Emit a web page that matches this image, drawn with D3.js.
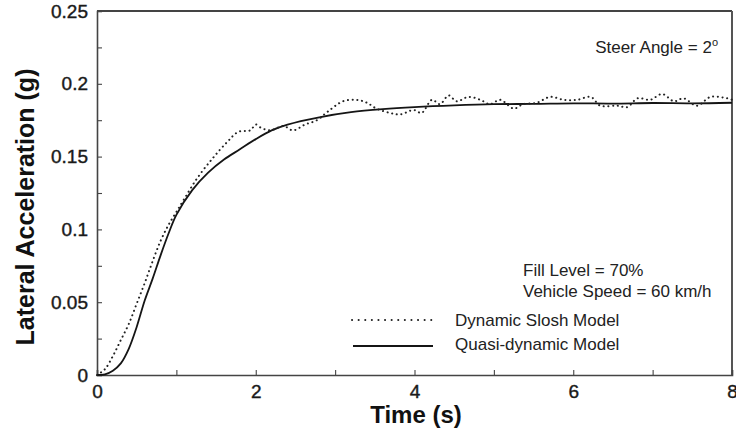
<!DOCTYPE html>
<html>
<head>
<meta charset="utf-8">
<script src="https://cdn.jsdelivr.net/npm/d3@7"></script>
<style>
  html, body { margin: 0; padding: 0; background: #fff; }
  #chart { width: 736px; height: 437px; }
  text { font-family: "Liberation Sans", Arial, Helvetica, sans-serif; }
</style>
</head>
<body>
<div id="chart"></div>
<script>
// quasi-dynamic model (solid)
const quasiTime = [0, 0.1, 0.2, 0.3, 0.4, 0.5, 0.6, 0.7, 0.8, 0.9, 1.0, 1.2, 1.4, 1.6, 1.8, 2.0, 2.2, 2.4, 2.8, 3.2, 3.6, 4.0, 4.5, 5.0, 5.5, 6.0, 6.5, 7.0, 7.5, 8.0];
const quasiAccel = [0, 0.0005, 0.003, 0.008, 0.018, 0.033, 0.051, 0.066, 0.082, 0.097, 0.110, 0.127, 0.139, 0.148, 0.155, 0.162, 0.168, 0.172, 0.177, 0.1805, 0.1826, 0.184, 0.1852, 0.186, 0.1862, 0.1866, 0.1864, 0.1868, 0.1866, 0.187];

// dynamic slosh model (dotted)
const sloshTime = [0, 0.1, 0.2, 0.3, 0.4, 0.5, 0.6, 0.7, 0.8, 0.9, 1.0, 1.1, 1.26, 1.46, 1.64, 1.78, 1.93, 2.0, 2.06, 2.18, 2.35, 2.47, 2.62, 2.77, 2.91, 3.1, 3.27, 3.4, 3.52, 3.69, 3.82, 3.99, 4.09, 4.22, 4.32, 4.43, 4.53, 4.68, 4.83, 4.95, 5.08, 5.25, 5.37, 5.54, 5.71, 5.88, 6.05, 6.22, 6.34, 6.55, 6.68, 6.81, 6.97, 7.12, 7.27, 7.39, 7.56, 7.73, 7.94, 8.0];
const sloshAccel = [0, 0.004, 0.013, 0.024, 0.035, 0.049, 0.063, 0.078, 0.092, 0.103, 0.112, 0.121, 0.135, 0.149, 0.160, 0.167, 0.168, 0.172, 0.170, 0.168, 0.171, 0.168, 0.172, 0.175, 0.181, 0.188, 0.189, 0.187, 0.183, 0.180, 0.179, 0.182, 0.180, 0.189, 0.186, 0.192, 0.188, 0.191, 0.189, 0.186, 0.189, 0.183, 0.186, 0.187, 0.191, 0.189, 0.189, 0.191, 0.185, 0.185, 0.184, 0.190, 0.189, 0.193, 0.188, 0.190, 0.185, 0.191, 0.190, 0.189];

const xTicks = [0, 1, 2, 3, 4, 5, 6, 7, 8];
const xTickLabels = ["0", "", "2", "", "4", "", "6", "", "8"];
const yTicks = [0, 0.025, 0.05, 0.075, 0.1, 0.125, 0.15, 0.175, 0.2, 0.225, 0.25];
const yTickLabels = ["0", "", "0.05", "", "0.1", "", "0.15", "", "0.2", "", "0.25"];

const legendNames = ["Dynamic Slosh Model", "Quasi-dynamic Model"];
const notes = ["Fill Level = 70%", "Vehicle Speed = 60 km/h"];

(function() {
  const width = 736, height = 437;
  const mLeft = 97, mRight = 732, mTop = 11, mBottom = 375;

  const svg = d3.select("#chart").append("svg")
    .attr("width", width)
    .attr("height", height);

  const x = d3.scaleLinear().domain([0, 8]).range([mLeft, mRight]);
  const y = d3.scaleLinear().domain([0, 0.25]).range([mBottom, mTop]);

  // frame top + right (heavier)
  svg.append("line").attr("x1", mLeft).attr("x2", mRight).attr("y1", mTop).attr("y2", mTop)
    .attr("stroke", "#444").attr("stroke-width", 2.2);
  svg.append("line").attr("x1", mRight).attr("x2", mRight).attr("y1", mTop).attr("y2", mBottom)
    .attr("stroke", "#555").attr("stroke-width", 2);

  const xAxis = svg.append("g")
    .attr("transform", `translate(0,${mBottom})`)
    .call(d3.axisBottom(x).tickValues(xTicks).tickSize(-5).tickPadding(10)
      .tickFormat((d, i) => xTickLabels[i]));

  const yAxis = svg.append("g")
    .attr("transform", `translate(${mLeft},0)`)
    .call(d3.axisLeft(y).tickValues(yTicks).tickSize(-5).tickPadding(9)
      .tickFormat((d, i) => yTickLabels[i]));

  [xAxis, yAxis].forEach(g => {
    g.select(".domain").attr("stroke", "#444").attr("stroke-width", 1.6);
    g.selectAll(".tick line").attr("stroke", "#444").attr("stroke-width", 1.1);
    g.selectAll(".tick text")
      .style("font-size", "19px")
      .style("fill", "#1a1a1a")
      .style("stroke", "#1a1a1a")
      .style("stroke-width", "0.4px")
      .style("font-family", "'Liberation Sans', Arial, sans-serif");
  });
  xAxis.selectAll(".tick text").attr("dy", "0.66em");

  // lines
  const line = d3.line()
    .x(d => x(d[0]))
    .y(d => y(d[1]))
    .curve(d3.curveCatmullRom);

  svg.append("path")
    .datum(quasiTime.map((t, i) => [t, quasiAccel[i]]))
    .attr("d", line)
    .attr("fill", "none")
    .attr("stroke", "#151515")
    .attr("stroke-width", 1.8);

  svg.append("path")
    .datum(sloshTime.map((t, i) => [t, sloshAccel[i]]))
    .attr("d", line)
    .attr("fill", "none")
    .attr("stroke", "#222")
    .attr("stroke-width", 2)
    .attr("stroke-linecap", "round")
    .attr("stroke-dasharray", "0.1,4.6");

  // axis titles
  svg.append("text")
    .attr("x", 416)
    .attr("y", 423)
    .attr("text-anchor", "middle")
    .style("font-size", "24px")
    .style("font-weight", "bold")
    .style("fill", "#111")
    .text("Time (s)");

  svg.append("text")
    .attr("transform", `translate(34,207) rotate(-90)`)
    .attr("text-anchor", "middle")
    .style("font-size", "25px")
    .style("font-weight", "bold")
    .style("fill", "#111")
    .text("Lateral Acceleration (g)");

  // annotations
  const steer = svg.append("text")
    .attr("x", 718)
    .attr("y", 53)
    .attr("text-anchor", "end")
    .style("font-size", "17px")
    .style("fill", "#222")
    .text("Steer Angle = 2");
  steer.append("tspan")
    .attr("dy", -7)
    .style("font-size", "11px")
    .text("o");

  svg.selectAll(".note")
    .data(notes)
    .join("text")
    .attr("class", "note")
    .attr("x", 523)
    .attr("y", (d, i) => 276 + i * 21)
    .style("font-size", "17px")
    .style("fill", "#222")
    .text(d => d);

  // legend
  const legend = svg.append("g");
  legend.append("line")
    .attr("x1", 352).attr("x2", 436).attr("y1", 320).attr("y2", 320)
    .attr("stroke", "#222").attr("stroke-width", 2)
    .attr("stroke-linecap", "round").attr("stroke-dasharray", "0.1,6.5");
  legend.append("line")
    .attr("x1", 353).attr("x2", 433).attr("y1", 346).attr("y2", 346)
    .attr("stroke", "#151515").attr("stroke-width", 1.8);
  legend.selectAll(".leg")
    .data(legendNames)
    .join("text")
    .attr("class", "leg")
    .attr("x", 455)
    .attr("y", (d, i) => 326 + i * 24)
    .style("font-size", "17px")
    .style("fill", "#222")
    .text(d => d);
})();
</script>
</body>
</html>
